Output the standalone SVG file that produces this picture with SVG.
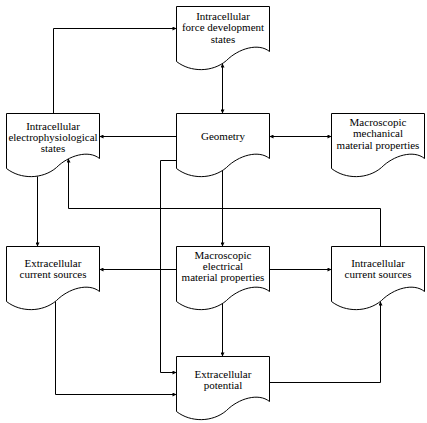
<svg xmlns="http://www.w3.org/2000/svg" xmlns:xlink="http://www.w3.org/1999/xlink" width="427" height="423" viewBox="0 0 427 423">
<style>
.doc{fill:#fff;stroke:#000;stroke-width:1}
.lbl{font-family:"Liberation Serif","DejaVu Serif",serif;font-size:11px;fill:#000;text-anchor:middle}
.con{fill:none;stroke:#000;stroke-width:1}
</style>
<defs>
<path id="doc" d="M0,0 H93 V45 C82,36 62,42 50,54 C36,66 14,66 0,55 Z"/>
<marker id="ah" viewBox="0 0 6 6" refX="6" refY="3" markerWidth="5" markerHeight="4" markerUnits="userSpaceOnUse" orient="auto-start-reverse">
<path d="M0,0 L6,3 L0,6 Z" fill="#000"/>
</marker>
</defs>
<rect width="427" height="423" fill="#fff"/>
<g id="connectors">
<path class="con" d="M53.5,113.5 V28.5 H176.5" marker-end="url(#ah)"/>
<path class="con" d="M222.5,113.5 V63.5" marker-start="url(#ah)" marker-end="url(#ah)"/>
<path class="con" d="M176.5,136.5 H99.5" marker-end="url(#ah)"/>
<path class="con" d="M269.5,136.5 H331.5" marker-start="url(#ah)" marker-end="url(#ah)"/>
<path class="con" d="M37.5,176.5 V246.5" marker-end="url(#ah)"/>
<path class="con" d="M380.5,246.5 V208.5 H68.5 V158.5" marker-end="url(#ah)"/>
<path class="con" d="M176.5,160.5 H160.5 V372.5 H176.5" marker-end="url(#ah)"/>
<path class="con" d="M222.5,170.5 V246.5" marker-end="url(#ah)"/>
<path class="con" d="M176.5,269.5 H99.5" marker-end="url(#ah)"/>
<path class="con" d="M269.5,269.5 H331.5" marker-end="url(#ah)"/>
<path class="con" d="M222.5,303.5 V356.5" marker-end="url(#ah)"/>
<path class="con" d="M55.5,301.5 V394.5 H176.5" marker-end="url(#ah)"/>
<path class="con" d="M269.5,382.5 H380.5 V301.5" marker-end="url(#ah)"/>
</g>
<g id="force">
<use xlink:href="#doc" href="#doc" class="doc" x="176.5" y="6.5"/>
<text class="lbl" x="223" y="19.5">Intracellular</text>
<text class="lbl" x="223" y="31">force development</text>
<text class="lbl" x="223" y="42.5">states</text>
</g>
<g id="electrophys">
<use xlink:href="#doc" href="#doc" class="doc" x="6.5" y="113.5"/>
<text class="lbl" x="53" y="130">Intracellular</text>
<text class="lbl" x="53" y="141">electrophysiological</text>
<text class="lbl" x="53" y="152">states</text>
</g>
<g id="geometry">
<use xlink:href="#doc" href="#doc" class="doc" x="176.5" y="113.5"/>
<text class="lbl" x="223" y="140">Geometry</text>
</g>
<g id="mechanical">
<use xlink:href="#doc" href="#doc" class="doc" x="331.5" y="113.5"/>
<text class="lbl" x="378" y="125.5">Macroscopic</text>
<text class="lbl" x="378" y="137">mechanical</text>
<text class="lbl" x="378" y="148.5">material properties</text>
</g>
<g id="extra-sources">
<use xlink:href="#doc" href="#doc" class="doc" x="6.5" y="246.5"/>
<text class="lbl" x="53" y="266.5">Extracellular</text>
<text class="lbl" x="53" y="277.5">current sources</text>
</g>
<g id="electrical">
<use xlink:href="#doc" href="#doc" class="doc" x="176.5" y="246.5"/>
<text class="lbl" x="223" y="258.5">Macroscopic</text>
<text class="lbl" x="223" y="269.5">electrical</text>
<text class="lbl" x="223" y="281">material properties</text>
</g>
<g id="intra-sources">
<use xlink:href="#doc" href="#doc" class="doc" x="331.5" y="246.5"/>
<text class="lbl" x="378" y="266.5">Intracellular</text>
<text class="lbl" x="378" y="277.5">current sources</text>
</g>
<g id="potential">
<use xlink:href="#doc" href="#doc" class="doc" x="176.5" y="356.5"/>
<text class="lbl" x="223" y="377.5">Extracellular</text>
<text class="lbl" x="223" y="388.5">potential</text>
</g>
</svg>
